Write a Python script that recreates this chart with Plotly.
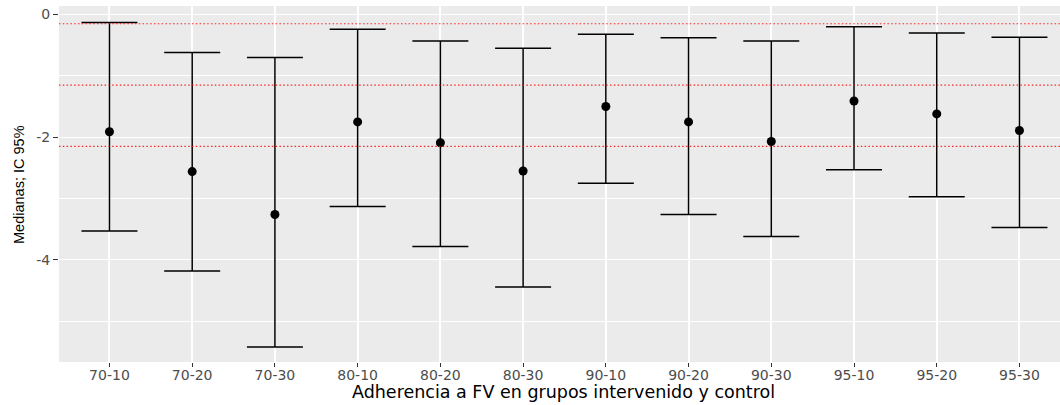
import plotly.graph_objects as go

# Adherence combinations (intervention - control)
grupos = ["70-10", "70-20", "70-30", "80-10", "80-20", "80-30",
          "90-10", "90-20", "90-30", "95-10", "95-20", "95-30"]
medianas = [-1.91, -2.56, -3.26, -1.75, -2.09, -2.55,
            -1.50, -1.75, -2.07, -1.41, -1.62, -1.89]
ic_sup = [-0.13, -0.62, -0.70, -0.24, -0.43, -0.55,
          -0.32, -0.38, -0.43, -0.20, -0.30, -0.37]
ic_inf = [-3.53, -4.18, -5.42, -3.13, -3.78, -4.44,
          -2.75, -3.26, -3.62, -2.53, -2.97, -3.47]
# Reference levels drawn as dotted lines
referencias = [-0.15, -1.15, -2.15]

err_plus = [s - m for s, m in zip(ic_sup, medianas)]
err_minus = [m - i for m, i in zip(medianas, ic_inf)]

fig = go.Figure()
fig.add_trace(go.Scatter(
    x=grupos, y=medianas, mode="markers",
    marker=dict(color="black", size=9, symbol="circle"),
    error_y=dict(type="data", symmetric=False, array=err_plus,
                 arrayminus=err_minus, color="black", thickness=1.5, width=28),
    showlegend=False, hoverinfo="x+y",
))

for r in referencias:
    fig.add_shape(type="line", xref="paper", x0=0, x1=1, yref="y", y0=r, y1=r,
                  line=dict(color="rgba(255,0,0,0.85)", width=1.2, dash="1.5px,2.3px"),
                  layer="above")

tick_font = dict(family="DejaVu Sans", size=14, color="#4D4D4D")

fig.update_layout(
    width=1060, height=405,
    margin=dict(l=59, r=0, t=6, b=43),
    paper_bgcolor="white", plot_bgcolor="#EBEBEB",
    xaxis=dict(
        type="category", range=[-0.61, 11.49],
        showgrid=True, gridcolor="white", gridwidth=1.8,
        ticks="outside", ticklen=4, tickwidth=1, tickcolor="#333333",
        ticklabelstandoff=-4,
        tickfont=tick_font, zeroline=False, showline=False,
    ),
    yaxis=dict(
        range=[-5.664, 0.139], tickvals=[0, -2, -4], ticktext=["0", "-2", "-4"],
        showgrid=True, gridcolor="white", gridwidth=1.3,
        minor=dict(tickvals=[-1, -3, -5], showgrid=True, gridcolor="white",
                   gridwidth=0.8, ticks=""),
        ticks="outside", ticklen=5, tickwidth=1, tickcolor="#333333",
        tickfont=tick_font, zeroline=False, showline=False,
    ),
    annotations=[
        dict(text="Adherencia a FV en grupos intervenido y control",
             xref="paper", yref="paper", x=0.504, y=-0.084,
             xanchor="center", yanchor="middle", showarrow=False,
             font=dict(family="DejaVu Sans", size=17.5, color="black")),
        dict(text="Medianas; IC 95%", textangle=-90,
             xref="paper", yref="paper", x=-0.04, y=0.5,
             xanchor="center", yanchor="middle", showarrow=False,
             font=dict(family="Liberation Sans", size=14.5, color="black")),
    ],
)

fig.write_html("out.html")
